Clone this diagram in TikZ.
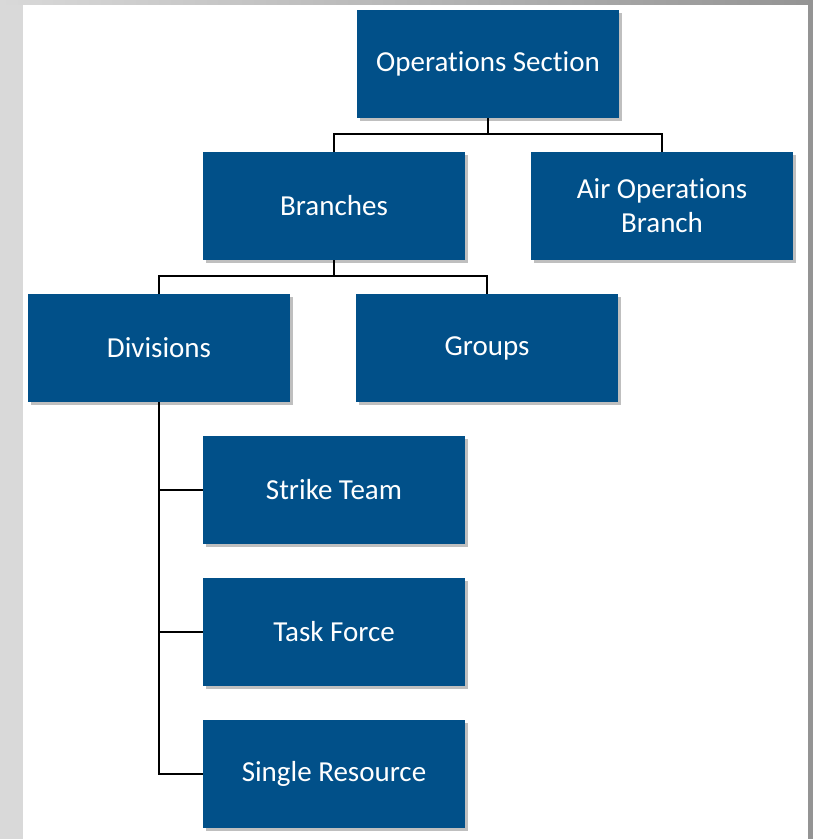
\documentclass[tikz,border=0pt]{standalone}
\usepackage{fontspec}
\setmainfont[Ligatures=NoCommon]{Carlito}
\usetikzlibrary{shadows}
\definecolor{boxblue}{RGB}{1,80,137}
\definecolor{bandL}{RGB}{217,217,217}
\definecolor{bandR}{RGB}{148,148,148}
\begin{document}
\begin{tikzpicture}[x=1pt,y=-1pt,
  orgbox/.style={fill=boxblue, draw=none, minimum width=262pt, minimum height=108pt,
    text=white, align=center, font=\fontsize{29}{34}\selectfont,
    drop shadow={opacity=0.25, shadow xshift=3pt, shadow yshift=-3pt, fill=black}},
  link/.style={draw=black, line width=1.6pt}]
\useasboundingbox (0,0) rectangle (813,839);
\fill[white] (0,0) rectangle (813,839);
\fill[bandL] (0,0) rectangle (23,839);
\shade[left color=bandL, right color=bandR] (0,0) rectangle (813,4);
\fill[bandR] (808,0) rectangle (813,839);

\node[orgbox] (ops) at (488,64) {Operations Section};
\node[orgbox] (br) at (334,206) {Branches};
\node[orgbox] (air) at (662,206) {Air Operations\\Branch};
\node[orgbox] (div) at (159,348) {Divisions};
\node[orgbox] (grp) at (487,348) {Groups};
\node[orgbox] (st) at (334,490) {Strike Team};
\node[orgbox] (tf) at (334,632) {Task Force};
\node[orgbox] (sr) at (334,774) {Single Resource};

\coordinate (j1) at (488,134);
\coordinate (j2) at (334,276);

\draw[link] (ops.south) -- (j1);
\draw[link] (br.north) |- (j1) -| (air.north);
\draw[link] (br.south) -- (j2);
\draw[link] (div.north) |- (j2) -| (grp.north);
\draw[link] (div.south) |- (sr.west);
\draw[link] (div.south |- st.west) -- (st.west);
\draw[link] (div.south |- tf.west) -- (tf.west);
\end{tikzpicture}
\end{document}
